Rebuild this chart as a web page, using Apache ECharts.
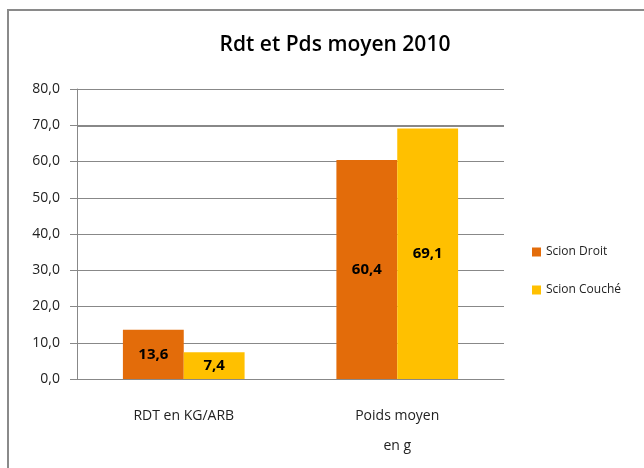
<!DOCTYPE html>
<html><head><meta charset="utf-8">
<script src="https://cdn.jsdelivr.net/npm/echarts@6/dist/echarts.min.js"></script>
<style>html,body{margin:0;padding:0;background:#fff}#c{width:644px;height:468px}</style>
</head><body><div id="c"></div>
<script>
const categories = ['RDT en KG/ARB', 'Poids moyen\nen g'];
const scionDroit = [13.6, 60.4];
const scionCouche = [7.4, 69.1];
const seriesNames = ['Scion Droit', 'Scion Couché'];
const fontFam = '"Open Sans", "Noto Sans", sans-serif';
const fmt = v => v.toFixed(1).replace('.', ',');
const chart = echarts.init(document.getElementById('c'));
chart.setOption({
  animation: false,
  backgroundColor: '#fff',
  graphic: [{type:'rect', shape:{x:8, y:10, width:700, height:500}, style:{fill:'none', stroke:'#8a8a8a', lineWidth:2}}],
  title: {text:'Rdt et Pds moyen 2010', left:330, top:30, textAlign:'center',
    textStyle:{fontFamily:fontFam, fontSize:21, fontWeight:'600', color:'#000'}},
  legend: {orient:'vertical', left:527, top:241, itemGap:26, itemWidth:9, itemHeight:9, icon:'rect',
    textStyle:{fontFamily:fontFam, fontSize:12, color:'#222'}, data: seriesNames},
  grid: {left:77, right:140, top:89, bottom:89},
  xAxis: {type:'category', data:categories,
    axisLine:{lineStyle:{color:'#888'}}, axisTick:{lineStyle:{color:'#888'}, length:7},
    axisLabel:{fontFamily:fontFam, fontSize:14, color:'#222', margin:22, lineHeight:30}},
  yAxis: {type:'value', min:0, max:80, interval:10,
    axisLine:{show:true, lineStyle:{color:'#888'}}, axisTick:{show:true, length:7, lineStyle:{color:'#888'}},
    splitLine:{lineStyle:{color:'#888'}},
    axisLabel:{fontFamily:fontFam, fontSize:14, color:'#222', margin:17, formatter:fmt}},
  series: [
    {name:seriesNames[0], type:'bar', data:scionDroit, barGap:'0%', barCategoryGap:'43%',
     itemStyle:{color:'#e36c0a'},
     label:{show:true, position:'inside', formatter:p=>fmt(p.value), fontFamily:fontFam, fontSize:15, fontWeight:'bold', color:'#000'},
     markLine:{silent:true, symbol:'none', label:{show:false}, lineStyle:{color:'#888', width:2, type:'solid'}, data:[{yAxis:70}], z:1}},
    {name:seriesNames[1], type:'bar', data:scionCouche, barGap:'0%', barCategoryGap:'43%',
     itemStyle:{color:'#ffc000'},
     label:{show:true, position:'inside', formatter:p=>fmt(p.value), fontFamily:fontFam, fontSize:15, fontWeight:'bold', color:'#000'}}
  ]
});
</script></body></html>
